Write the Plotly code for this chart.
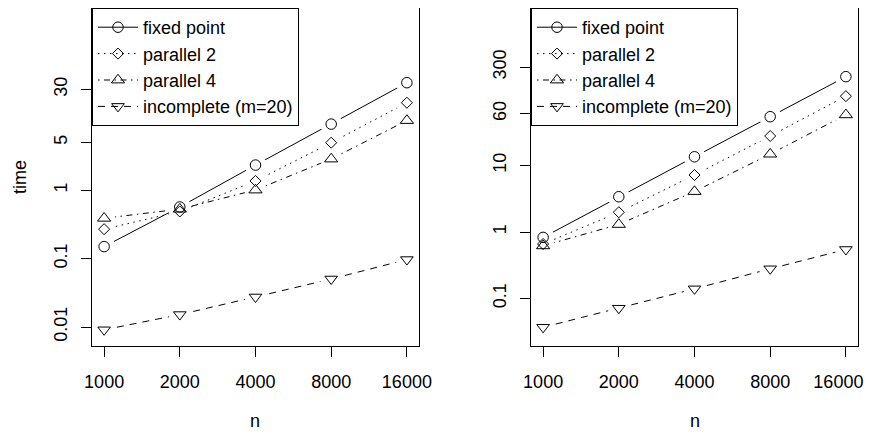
import plotly.graph_objects as go

n = [1000, 2000, 4000, 8000, 16000]
series_names = ["fixed point", "parallel 2", "parallel 4", "incomplete (m=20)"]

# left panel
left_fixed = [0.15, 0.57, 2.34, 9.3, 37.5]
left_par2 = [0.27, 0.49, 1.37, 4.97, 19.1]
left_par4 = [0.39, 0.53, 1.01, 2.87, 10.5]
left_incomplete = [0.0091, 0.0152, 0.0275, 0.0504, 0.097]

# right panel
right_fixed = [0.83, 3.39, 13.5, 54, 216]
right_par2 = [0.66, 1.98, 7.19, 27.7, 110]
right_par4 = [0.62, 1.30, 4.06, 14.8, 57.7]
right_incomplete = [0.037, 0.0716, 0.140, 0.28, 0.546]

x_ticks = [1000, 2000, 4000, 8000, 16000]
x_ticktext = ["1000", "2000", "4000", "8000", "16000"]
# last label nudged left (trailing no-break spaces) so it stays inside the page
x2_ticktext = ["1000", "2000", "4000", "8000", "16000\u00a0\u00a0\u00a0"]
left_yticks = [0.01, 0.1, 1, 5, 30]
left_yticktext = ["0.01", "0.1", "1", "5", "30"]
right_yticks = [0.1, 1, 10, 60, 300]
right_yticktext = ["0.1", "1", "10", "60", "300"]

symbols = ["circle-open", "diamond-open", "triangle-up-open", "triangle-down-open"]
dashes = ["solid", "1.5px,4.5px", "1.5px,4.5px,6px,4.5px", "7px,6px"]
sizes = [10.5, 8.5, 11.5, 11]

FONT = "Liberation Sans, Arial, Helvetica, sans-serif"
W, H = 872, 434
# the html page body has an 8px margin; work in page pixels
OX, OY = 8, 8
FW, FH = W - OX, H - OY

fig = go.Figure()

panels = [
    ("x", "y", "legend", [left_fixed, left_par2, left_par4, left_incomplete]),
    ("x2", "y2", "legend2", [right_fixed, right_par2, right_par4, right_incomplete]),
]

for xa, ya, lg, data in panels:
    # lines (with legend entries)
    for name, vals, sym, dash, sz in zip(series_names, data, symbols, dashes, sizes):
        fig.add_trace(go.Scatter(
            x=n, y=vals, name=name, mode="lines+markers", xaxis=xa, yaxis=ya,
            legend=lg, line=dict(color="black", width=1, dash=dash),
            marker=dict(symbol=sym, size=sz, color="black", line=dict(width=1)),
            showlegend=True, hoverinfo="skip"))
    # white gaps around points (like R type="b")
    for vals in data:
        fig.add_trace(go.Scatter(
            x=n, y=vals, mode="markers", xaxis=xa, yaxis=ya, showlegend=False,
            marker=dict(symbol="circle", size=22, color="white", line=dict(width=0)),
            hoverinfo="skip"))
    # open markers on top
    for vals, sym, sz in zip(data, symbols, sizes):
        fig.add_trace(go.Scatter(
            x=n, y=vals, mode="markers", xaxis=xa, yaxis=ya, showlegend=False,
            marker=dict(symbol=sym, size=sz, color="black", line=dict(width=1)),
            hoverinfo="skip"))

def px_x(p):
    return (p - OX) / FW

def px_y(p):
    return (FH - (p - OY)) / FH

axis_common = dict(
    type="log", showgrid=False, zeroline=False, showline=True, mirror=True,
    linecolor="black", linewidth=1, ticks="outside", ticklen=10, tickwidth=1,
    tickcolor="black", tickfont=dict(family=FONT, size=18, color="black"),
    automargin=False, ticklabeloverflow="allow",
)

x_range = [2.9518, 4.2523]

fig.update_layout(
    width=FW, height=FH, margin=dict(l=0, r=0, t=0, b=0, autoexpand=False),
    paper_bgcolor="white", plot_bgcolor="white",
    font=dict(family=FONT, size=18, color="black"),
    xaxis=dict(domain=[px_x(92), px_x(419)], range=x_range, tickvals=x_ticks,
               ticktext=x_ticktext, anchor="y", ticklabelstandoff=9, **axis_common),
    xaxis2=dict(domain=[px_x(531), px_x(858)], range=x_range, tickvals=x_ticks,
                ticktext=x2_ticktext, anchor="y2", ticklabelstandoff=9, **axis_common),
    yaxis=dict(domain=[px_y(346), px_y(8)], range=[-2.278, 2.667],
               tickvals=left_yticks, ticktext=left_yticktext, tickangle=-90,
               anchor="x", ticklabelstandoff=7, **axis_common),
    yaxis2=dict(domain=[px_y(346), px_y(8)], range=[-1.713, 3.366],
                tickvals=right_yticks, ticktext=right_yticktext, tickangle=-90,
                anchor="x2", ticklabelstandoff=7, **axis_common),
    legend=dict(x=px_x(92), y=px_y(8), xanchor="left", yanchor="top",
                bordercolor="black", borderwidth=1, bgcolor="white",
                font=dict(family=FONT, size=18, color="black"), itemwidth=40,
                tracegroupgap=0),
    legend2=dict(x=px_x(531), y=px_y(8), xanchor="left", yanchor="top",
                 bordercolor="black", borderwidth=1, bgcolor="white",
                 font=dict(family=FONT, size=18, color="black"), itemwidth=40,
                 tracegroupgap=0),
    annotations=[
        dict(text="time", x=px_x(20), y=px_y(177), xref="paper", yref="paper",
             xanchor="center", yanchor="middle",
             showarrow=False, textangle=-90, font=dict(family=FONT, size=18)),
        dict(text="n", x=px_x(255.5), y=px_y(421), xref="paper", yref="paper",
             xanchor="center", yanchor="middle",
             showarrow=False, font=dict(family=FONT, size=18)),
        dict(text="n", x=px_x(694.5), y=px_y(421), xref="paper", yref="paper",
             xanchor="center", yanchor="middle",
             showarrow=False, font=dict(family=FONT, size=18)),
    ],
)

fig.write_html("out.html")
